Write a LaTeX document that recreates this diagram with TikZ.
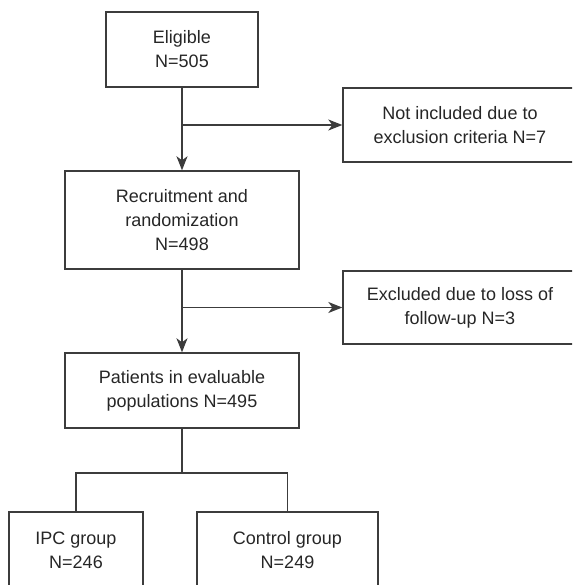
\documentclass[tikz,border=0pt]{standalone}
\usepackage{fontspec}
\setmainfont{Liberation Sans}
\usetikzlibrary{arrows.meta}
\definecolor{linegray}{HTML}{3C3C3C}

\begin{document}
\begin{tikzpicture}[x=1pt,y=-1pt,
  box/.style={draw=linegray,line width=1.4pt,text=black!85,align=center,
    inner sep=0pt,font=\fontsize{18}{24}\selectfont},
  link/.style={draw=linegray,line width=1.4pt},
  arr/.style={link,-{Stealth[length=14pt,width=11pt,inset=4pt]}}]
  \useasboundingbox (0,0) rectangle (572,585);
  \clip (0,0) rectangle (572,585);
  \node[box,minimum width=152pt,minimum height=75pt] (elig) at (182,49.5) {Eligible\\N=505};
  \node[box,minimum width=234pt,minimum height=74pt] (noinc) at (460,125) {Not included due to\\exclusion criteria N=7};
  \node[box,minimum width=234pt,minimum height=98pt] (rand) at (182,220) {Recruitment and\\randomization\\N=498};
  \node[box,minimum width=234pt,minimum height=73pt] (lost) at (460,307.5) {Excluded due to loss of\\follow-up N=3};
  \node[box,minimum width=234pt,minimum height=75pt] (pat) at (182,390.5) {Patients in evaluable\\populations N=495};
  \node[box,minimum width=134pt,minimum height=76pt] (ipc) at (76,550) {IPC group\\N=246};
  \node[box,minimum width=181pt,minimum height=76pt] (ctrl) at (287.5,550) {Control group\\N=249};
  \coordinate (split) at (182,473);
  \draw[arr] (elig) -- (rand);
  \draw[arr] (elig.south |- noinc.west) -- (noinc.west);
  \draw[arr] (rand) -- (pat);
  \draw[arr] (rand.south |- lost.west) -- (lost.west);
  \draw[link] (pat) -- (split);
  \draw[link] (split) -| (ipc.north);
  \draw[link] (split) -| (ctrl.north);
\end{tikzpicture}
\end{document}
